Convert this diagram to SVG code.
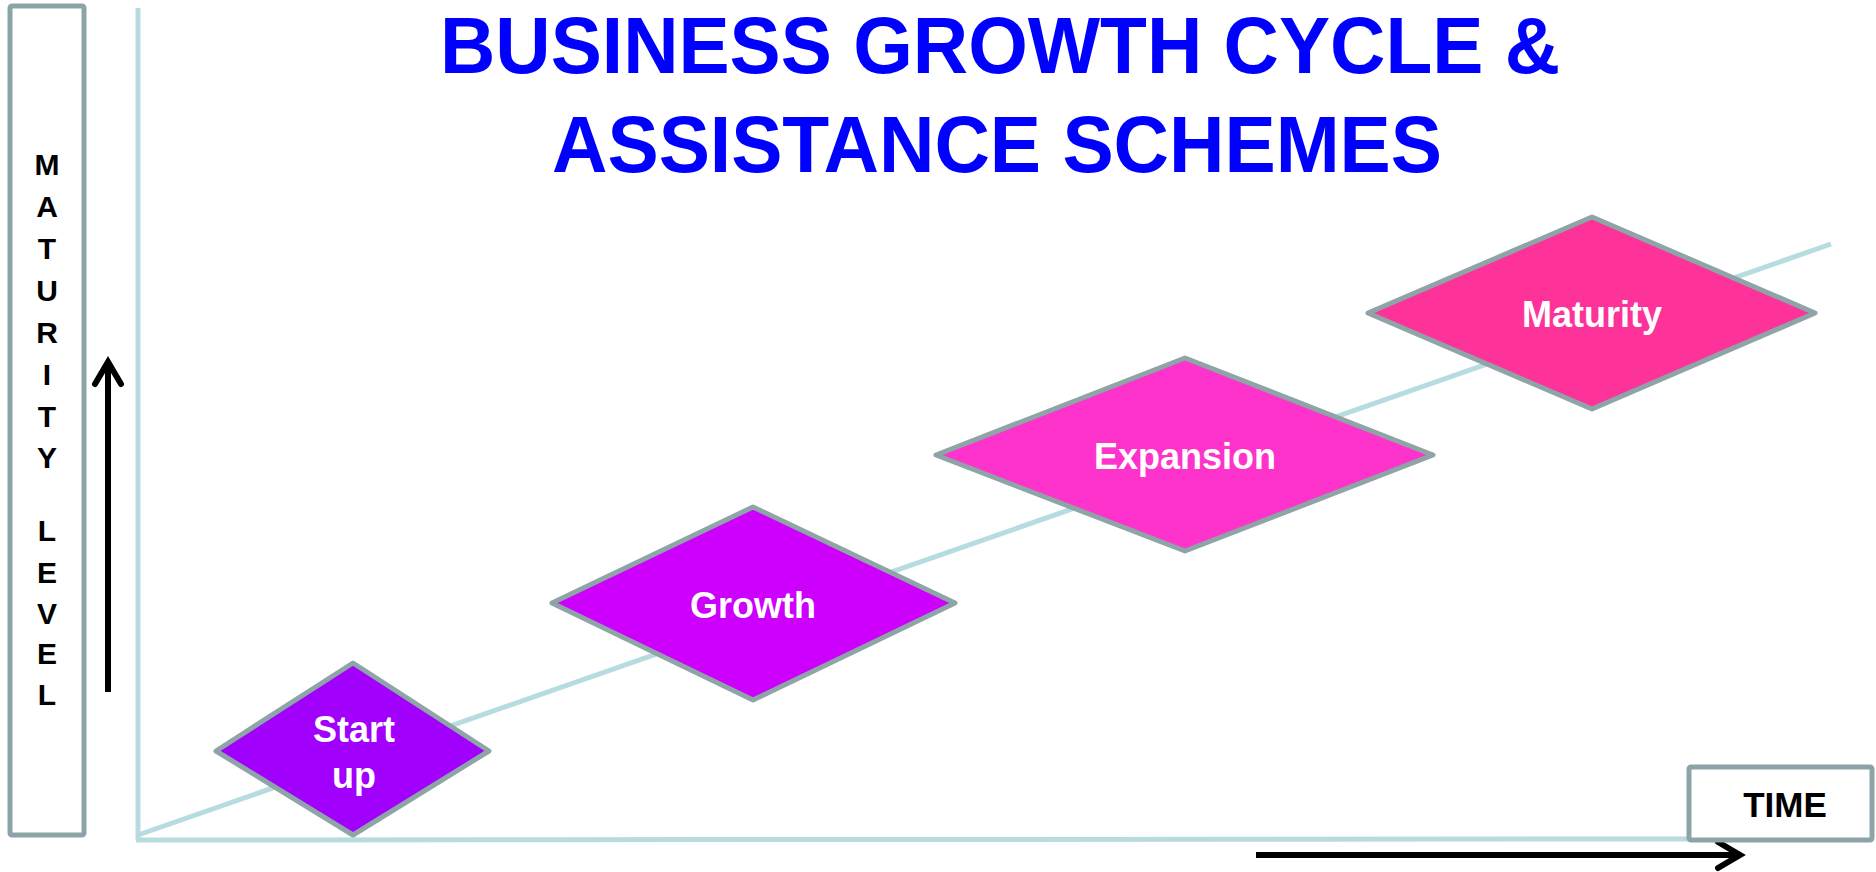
<svg xmlns="http://www.w3.org/2000/svg" width="1876" height="872" viewBox="0 0 1876 872">
  <style>
    .title { font-family: "Liberation Sans", Arial, sans-serif; font-weight: bold; font-size: 80px; fill: #0000ff; }
    .vlabel { font-family: "Liberation Sans", Arial, sans-serif; font-weight: bold; font-size: 30px; fill: #000; text-anchor: middle; }
    .node-label { font-family: "Liberation Sans", Arial, sans-serif; font-weight: bold; font-size: 36px; fill: #ffffff; text-anchor: middle; }
    .time { font-family: "Liberation Sans", Arial, sans-serif; font-weight: bold; font-size: 35px; fill: #000; text-anchor: middle; }
    .box { fill: #ffffff; stroke: #8ca4a7; stroke-width: 5; }
    .diamond { stroke: #8ea4a7; stroke-width: 5; stroke-linejoin: round; }
    .axis { stroke: #b7dce0; stroke-width: 5; fill: none; }
    .arrow { stroke: #000; stroke-width: 6; fill: none; marker-end: url(#chev); }
  </style>
  <defs>
    <marker id="chev" markerUnits="userSpaceOnUse" markerWidth="40" markerHeight="40" refX="0" refY="0" orient="auto" overflow="visible">
      <path d="M -22 -13 L 0 0 L -22 13" fill="none" stroke="#000" stroke-width="6" stroke-linecap="round" stroke-linejoin="miter"/>
    </marker>
  </defs>
  <rect width="1876" height="872" fill="#ffffff"/>

  <g id="title">
    <text class="title" x="440" y="73" textLength="1120" lengthAdjust="spacingAndGlyphs">BUSINESS GROWTH CYCLE &amp;</text>
    <text class="title" x="552" y="172" textLength="890" lengthAdjust="spacingAndGlyphs">ASSISTANCE SCHEMES</text>
  </g>

  <g id="maturity-level-label">
    <rect class="box" x="10" y="6" width="74" height="829" rx="2"/>
    <text class="vlabel" x="47" y="175">M</text>
    <text class="vlabel" x="47" y="217">A</text>
    <text class="vlabel" x="47" y="259">T</text>
    <text class="vlabel" x="47" y="301">U</text>
    <text class="vlabel" x="47" y="343">R</text>
    <text class="vlabel" x="47" y="385">I</text>
    <text class="vlabel" x="47" y="427">T</text>
    <text class="vlabel" x="47" y="468">Y</text>
    <text class="vlabel" x="47" y="541">L</text>
    <text class="vlabel" x="47" y="583">E</text>
    <text class="vlabel" x="47" y="624">V</text>
    <text class="vlabel" x="47" y="664">E</text>
    <text class="vlabel" x="47" y="705">L</text>
  </g>

  <g id="connectors">
    <line class="axis" x1="138" y1="8" x2="138" y2="840"/>
    <line class="axis" x1="136" y1="840" x2="1700" y2="839"/>
    <line class="axis" x1="138" y1="835" x2="1831" y2="244"/>
    <line class="arrow" x1="108" y1="692" x2="108" y2="362"/>
    <line class="arrow" x1="1256" y1="855" x2="1740" y2="855"/>
  </g>

  <g id="time-label">
    <rect class="box" x="1689" y="767" width="183" height="73" rx="2"/>
    <text class="time" x="1785" y="817">TIME</text>
  </g>

  <g id="node-startup">
    <polygon class="diamond" fill="#a100fc" points="216,751 353,663 489,751 353,835"/>
    <text class="node-label" x="354" y="742">Start</text>
    <text class="node-label" x="354" y="788">up</text>
  </g>

  <g id="node-growth">
    <polygon class="diamond" fill="#cc00fc" points="552,603 753,507 955,603 753,700"/>
    <text class="node-label" x="753" y="618">Growth</text>
  </g>

  <g id="node-expansion">
    <polygon class="diamond" fill="#fe33cc" points="936,455 1185,358 1433,455 1185,551"/>
    <text class="node-label" x="1185" y="469">Expansion</text>
  </g>

  <g id="node-maturity">
    <polygon class="diamond" fill="#fe3399" points="1368,313 1592,217 1815,313 1592,409"/>
    <text class="node-label" x="1592" y="327">Maturity</text>
  </g>
</svg>
